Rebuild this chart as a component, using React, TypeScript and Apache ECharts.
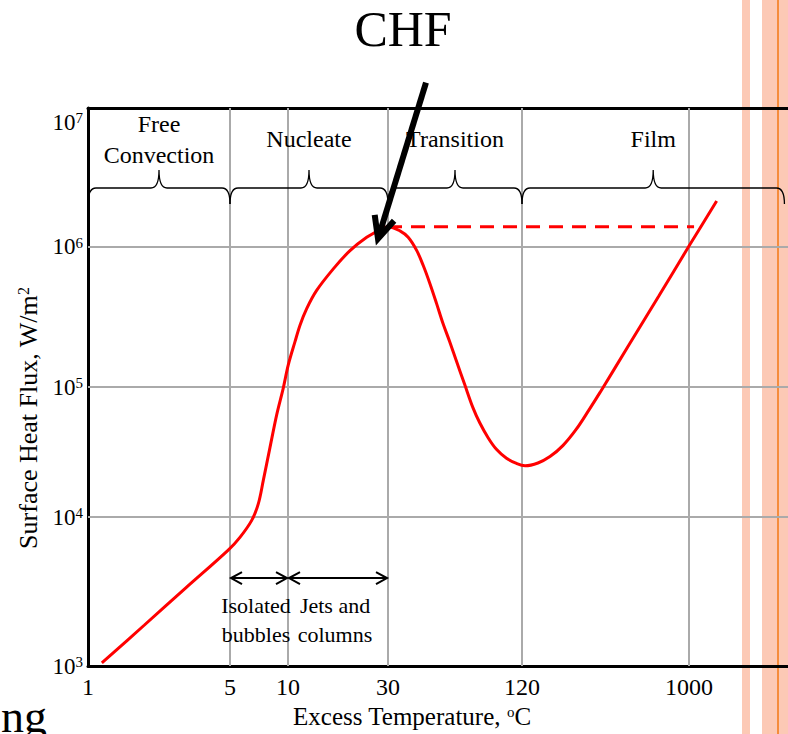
import { useEffect, useRef } from 'react';
import * as echarts from 'echarts';

const FONT = '"Liberation Serif", "Times New Roman", serif';

// Axis calibration of the figure: tick values and where the figure draws them (in decades from the origin)
const xTickValues = [1, 5, 10, 30, 120, 1000];
const xTickLabels = ['1', '5', '10', '30', '120', '1000'];
const xTickDecades = [0, 0.71, 1.0, 1.5, 2.17, 3.005];
const yTickValues = [1e3, 1e4, 1e5, 1e6, 1e7];
const yTickExponents = ['3', '4', '5', '6', '7'];
const yTickDecades = [0, 1.068, 2.0, 3.004, 4.0];

// Boiling curve: excess temperature (°C) and surface heat flux (W/m²)
const excessTemp = [
  1.17, 1.89, 3.04, 4.9, 5.63, 6.48, 7.01, 7.44, 8.06, 8.74, 9.45, 10.03, 10.8, 11.41, 12.28, 13.7, 16.45, 19.76, 23.74, 27.47, 30,
  33.95, 36.96, 40.4, 43.2, 46.3, 49.6, 53.0, 56.8, 61.0, 66.4, 72.3, 77.5, 84.5, 92.1, 102.2, 113.4, 124.7,
  146.9, 171.2, 201.6, 238.0, 281.0, 323.3, 467, 683, 1000, 1375,
];
const heatFlux = [
  1050, 1880, 3360, 6000, 7311, 9506, 12630, 19060, 34200, 61440, 98240, 143900, 210900, 276600, 363300, 489800, 698000, 941000, 1173000, 1329000, 1400000,
  1307000, 1173000, 941000, 736900, 546600, 394000, 284300, 210900, 152100, 103800, 69130, 53120, 40800, 33220, 28360, 25840, 24810,
  26070, 29210, 35440, 46970, 66740, 90950, 200200, 448500, 1015000, 2142000,
];

// Critical heat flux
const chfTemp = 30;
const chfFlux = 1400000;
const chfLineEnd = 1060;

// Boiling regimes
const regimeNames = ['Free\nConvection', 'Nucleate', 'Transition', 'Film'];
const regimeStart = [1, 5, 30, 120];
const regimeEnd = [5, 30, 120, 3000];

// Nucleate sub-regimes
const subRegimeNames = ['Isolated\nbubbles', 'Jets and\ncolumns'];
const subRegimeStart = [5, 10];
const subRegimeEnd = [10, 30];

function calib(v: number, ticks: number[], pos: number[]): number {
  const n = ticks.length;
  if (v <= ticks[0]) {
    const slope = (pos[1] - pos[0]) / Math.log10(ticks[1] / ticks[0]);
    return pos[0] + Math.log10(v / ticks[0]) * slope;
  }
  if (v >= ticks[n - 1]) {
    return pos[n - 1] + Math.log10(v / ticks[n - 1]);
  }
  for (let i = 0; i < n - 1; i++) {
    if (v >= ticks[i] && v <= ticks[i + 1]) {
      const t = Math.log10(v / ticks[i]) / Math.log10(ticks[i + 1] / ticks[i]);
      return pos[i] + t * (pos[i + 1] - pos[i]);
    }
  }
  return 0;
}
const xPos = (v: number) => calib(v, xTickValues, xTickDecades);
const yPos = (v: number) => calib(v, yTickValues, yTickDecades);

function nearestIndex(v: number, arr: number[]): number {
  let best = 0;
  for (let i = 1; i < arr.length; i++) if (Math.abs(arr[i] - v) < Math.abs(arr[best] - v)) best = i;
  return best;
}

export default function App() {
  const ref = useRef<HTMLDivElement>(null);
  useEffect(() => {
    if (!ref.current) return;
    const chart = echarts.init(ref.current, undefined, { renderer: 'svg' });
    const curve = excessTemp.map((t, i) => [xPos(t), yPos(heatFlux[i])]);
    const option: any = {
      animation: false,
      backgroundColor: '#ffffff',
      grid: { left: 88, top: 108, right: 0, bottom: 64 },
      xAxis: [
        {
          type: 'value', min: 0, max: 3.5, position: 'bottom',
          axisLine: { show: true, onZero: false, lineStyle: { color: '#000', width: 3 } },
          axisTick: { show: false },
          splitLine: { show: false },
          axisLabel: {
            customValues: xTickDecades,
            showMinLabel: true, showMaxLabel: true,
            formatter: (v: number) => xTickLabels[nearestIndex(v, xTickDecades)],
            color: '#000', fontFamily: FONT, fontSize: 24, margin: 9,
          },
          name: 'Excess Temperature, {o|o}C',
          nameLocation: 'middle', nameGap: 34,
          nameTextStyle: {
            color: '#000', fontFamily: FONT, fontSize: 25, padding: [0, 52, 0, 0],
            rich: { o: { fontSize: 15, fontFamily: FONT, color: '#000', verticalAlign: 'top' } },
          },
        },
        {
          type: 'value', min: 0, max: 3.5, position: 'top',
          axisLine: { show: true, onZero: false, lineStyle: { color: '#000', width: 3 } },
          axisTick: { show: false }, axisLabel: { show: false }, splitLine: { show: false },
        },
      ],
      yAxis: {
        type: 'value', min: 0, max: 4,
        axisLine: { show: true, onZero: false, lineStyle: { color: '#000', width: 3 } },
        axisTick: { show: false },
        splitLine: { show: false },
        axisLabel: {
          customValues: yTickDecades,
          showMinLabel: true, showMaxLabel: true,
          formatter: (v: number) => {
            const e = yTickExponents[nearestIndex(v, yTickDecades)];
            return e === '7' ? `{bt|10}{st|${e}}` : `{b|10}{s|${e}}`;
          },
          margin: 5,
          rich: {
            b: { fontSize: 23, fontFamily: FONT, color: '#000' },
            s: { fontSize: 15, fontFamily: FONT, color: '#000', verticalAlign: 'top' },
            bt: { fontSize: 23, fontFamily: FONT, color: '#000', padding: [28, 0, 0, 0] },
            st: { fontSize: 15, fontFamily: FONT, color: '#000', verticalAlign: 'top', padding: [28, 0, 0, 0] },
          },
        },
        name: 'Surface Heat Flux, W/m{s|2}',
        nameLocation: 'middle', nameGap: 42,
        nameTextStyle: {
          color: '#000', fontFamily: FONT, fontSize: 26, padding: [0, 62, 0, 0],
          rich: { s: { fontSize: 16, fontFamily: FONT, color: '#000', verticalAlign: 'top' } },
        },
      },
      graphic: [
        { type: 'rect', z: -10, silent: true, shape: { x: 742, y: 0, width: 8, height: 734 }, style: { fill: '#fcc9b5' } },
        { type: 'rect', z: -10, silent: true, shape: { x: 762, y: 0, width: 26, height: 734 }, style: { fill: '#fcc9b5' } },
        { type: 'line', z: -9, silent: true, shape: { x1: 778, y1: 0, x2: 778, y2: 734 }, style: { stroke: '#f58c3c', lineWidth: 2 } },
        { type: 'text', z: 10, silent: true, x: 1, y: 716, style: { text: 'ng', fontSize: 46, fontFamily: FONT, fill: '#000', align: 'left', verticalAlign: 'middle' } },
      ],
      series: [
        {
          type: 'custom', silent: true, z: 1,
          data: xTickValues.slice(1).map((v) => [xPos(v), 0]),
          renderItem: (params: any, api: any) => {
            const cs = params.coordSys;
            const x = api.coord([api.value(0), 0])[0];
            return { type: 'line', shape: { x1: x, y1: cs.y, x2: x, y2: cs.y + cs.height }, style: { stroke: '#aaaaaa', lineWidth: 2 } };
          },
        },
        {
          type: 'custom', silent: true, z: 1,
          data: yTickValues.slice(1, -1).map((v) => [0, yPos(v)]),
          renderItem: (params: any, api: any) => {
            const cs = params.coordSys;
            const y = api.coord([0, api.value(1)])[1];
            return { type: 'line', shape: { x1: cs.x, y1: y, x2: cs.x + cs.width, y2: y }, style: { stroke: '#aaaaaa', lineWidth: 2 } };
          },
        },
        {
          type: 'line', z: 4, silent: true, data: curve, smooth: 0.35, showSymbol: false, symbol: 'none',
          lineStyle: { color: '#ff0000', width: 3 },
        },
        {
          type: 'line', z: 4, silent: true, symbol: 'none', showSymbol: false,
          data: [[xPos(chfTemp), yPos(chfFlux)], [xPos(chfLineEnd), yPos(chfFlux)]],
          lineStyle: { color: '#ff0000', width: 3, type: [14, 9] },
        },
        {
          // regime braces and names
          type: 'custom', silent: true, z: 5, clip: false,
          data: regimeStart.map((s, i) => [xPos(s), xPos(regimeEnd[i]), i]),
          renderItem: (params: any, api: any) => {
            const cs = params.coordSys;
            const xa = api.coord([api.value(0), 0])[0];
            const xb = api.coord([api.value(1), 0])[0];
            const xm = (xa + xb) / 2;
            const y0 = cs.y + 80;
            const yt = y0 - 18;
            const ye = y0 + 16;
            const r = 8;
            const d = `M${xa},${ye} Q${xa},${y0} ${xa + r},${y0} L${xm - r},${y0} Q${xm},${y0} ${xm},${yt} Q${xm},${y0} ${xm + r},${y0} L${xb - r},${y0} Q${xb},${y0} ${xb},${ye}`;
            return {
              type: 'group',
              children: [
                { type: 'path', shape: { pathData: d }, style: { fill: 'none', stroke: '#000', lineWidth: 1.3 } },
                {
                  type: 'text', x: xm, y: cs.y + 31,
                  style: { text: regimeNames[params.dataIndex], fontSize: 24, fontFamily: FONT, fill: '#000', align: 'center', verticalAlign: 'middle', lineHeight: 31 },
                },
              ],
            };
          },
        },
        {
          // nucleate sub-regime arrows
          type: 'custom', silent: true, z: 5, clip: false,
          data: subRegimeStart.map((s, i) => [xPos(s), xPos(subRegimeEnd[i]), i]),
          renderItem: (params: any, api: any) => {
            const cs = params.coordSys;
            const xa = api.coord([api.value(0), 0])[0] + 1;
            const xb = api.coord([api.value(1), 0])[0] - 1;
            const y = cs.y + cs.height - 88;
            const st = { stroke: '#000', lineWidth: 2, fill: 'none' };
            return {
              type: 'group',
              children: [
                { type: 'line', shape: { x1: xa, y1: y, x2: xb, y2: y }, style: st },
                { type: 'polyline', shape: { points: [[xa + 11, y - 6], [xa, y], [xa + 11, y + 6]] }, style: st },
                { type: 'polyline', shape: { points: [[xb - 11, y - 6], [xb, y], [xb - 11, y + 6]] }, style: st },
                {
                  type: 'text', x: (xa + xb) / 2 - 3, y: y + 42,
                  style: { text: subRegimeNames[params.dataIndex], fontSize: 22, fontFamily: FONT, fill: '#000', align: 'center', verticalAlign: 'middle', lineHeight: 29 },
                },
              ],
            };
          },
        },
        {
          // CHF arrow and title
          type: 'custom', silent: true, z: 6, clip: false,
          data: [[xPos(chfTemp), yPos(chfFlux)]],
          renderItem: (params: any, api: any) => {
            const p = api.coord([api.value(0), api.value(1)]);
            const tip = [p[0] - 10, p[1] + 12];
            const top = [tip[0] + 48, tip[1] - 156];
            const len = Math.hypot(top[0] - tip[0], top[1] - tip[1]);
            const ux = (top[0] - tip[0]) / len;
            const uy = (top[1] - tip[1]) / len;
            const rot = (a: number) => {
              const c = Math.cos(a), s = Math.sin(a);
              return [tip[0] + 24 * (ux * c - uy * s), tip[1] + 24 * (ux * s + uy * c)];
            };
            const b1 = rot((25 * Math.PI) / 180);
            const b2 = rot((-25 * Math.PI) / 180);
            const st = { stroke: '#000', lineWidth: 6, fill: 'none', lineJoin: 'miter' };
            return {
              type: 'group',
              children: [
                { type: 'line', shape: { x1: tip[0] + ux * 4, y1: tip[1] + uy * 4, x2: top[0], y2: top[1] }, style: st },
                { type: 'polyline', shape: { points: [b1, tip, b2] }, style: st },
                {
                  type: 'text', x: tip[0] + 25, y: tip[1] - 210,
                  style: { text: 'CHF', fontSize: 50, lineHeight: 50, fontFamily: FONT, fill: '#000', align: 'center', verticalAlign: 'middle' },
                },
              ],
            };
          },
        },
      ],
    };
    chart.setOption(option);
    return () => chart.dispose();
  }, []);
  return <div ref={ref} style={{ position: 'absolute', left: 0, top: 0, width: 788, height: 734 }} />;
}
